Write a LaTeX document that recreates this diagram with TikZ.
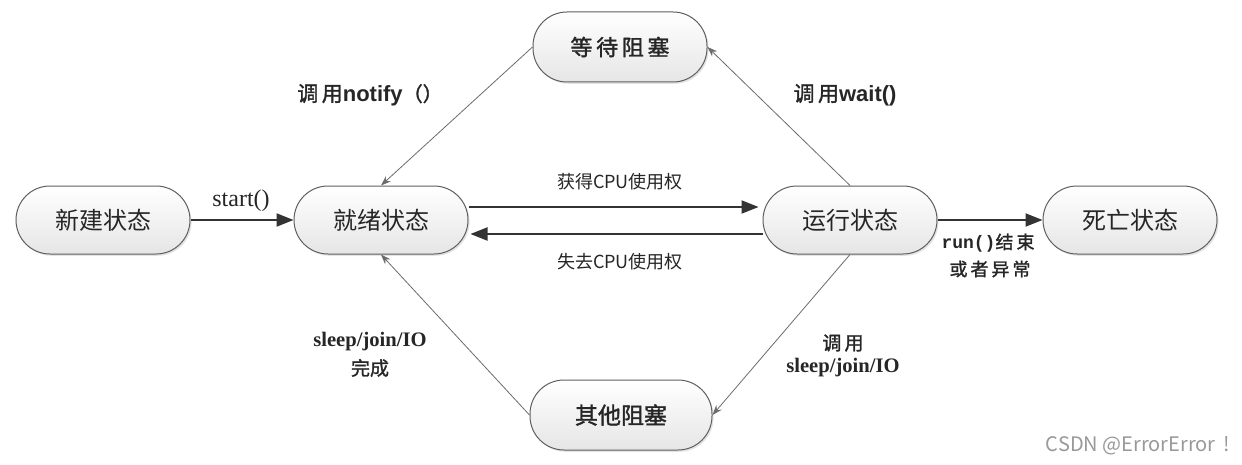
\documentclass[tikz,border=0pt]{standalone}
\usepackage{fontspec}
\setmainfont{Liberation Serif}
\setsansfont{Liberation Sans}
\setmonofont{Liberation Mono}
\newfontfamily\cjk{Noto Sans CJK SC}
\newfontfamily\cjkb[FakeBold=1.5]{Noto Sans CJK SC}
\usetikzlibrary{arrows.meta,shadows}
\tikzset{
  state/.style={draw=gray!75!black, line width=0.5pt, rounded corners=17pt,
    minimum width=87pt, minimum height=34pt, inner sep=0pt,
    top color=white, bottom color=gray!20,
    drop shadow={shadow xshift=0.8pt,shadow yshift=-0.9pt,opacity=0.22},
    text=black!85},
  statefont/.style={font=\cjk\fontsize{12}{14}\selectfont},
  blockfont/.style={font=\cjkb\fontsize{11}{13}\selectfont},
  thickarrow/.style={draw=black!80, line width=1pt, -{Triangle[length=8.5pt,width=6.5pt]}},
  thinarrow/.style={draw=gray!85!black, line width=0.4pt, -{Stealth[length=5pt,width=3.6pt]}},
  lbl/.style={inner sep=0pt, text=black!85, align=center}
}
\begin{document}
\begin{tikzpicture}[x=0.5pt,y=-0.5pt]
\useasboundingbox (0,0) rectangle (1242,465);
\fill[white] (0,0) rectangle (1242,465);

% states
\node[state,statefont] (new)   at (103,220)  {新建状态};
\node[state,statefont] (ready) at (381,220)  {就绪状态};
\node[state,statefont] (run)   at (850,220)  {运行状态};
\node[state,statefont] (dead)  at (1130,220) {死亡状态};
\node[state,blockfont,minimum height=35pt] (wait)  at (620,47) {等\,待\,阻\,塞};
\node[state,blockfont,minimum width=91pt,minimum height=35pt,font=\cjkb\fontsize{11.5}{13}\selectfont] (other) at (621,415) {其他阻塞};

% thick connectors
\draw[thickarrow] (new.east) -- (ready.west);
\draw[thickarrow] ([yshift=6.5pt]ready.east) -- ([yshift=6.5pt,xshift=-2pt]run.west);
\draw[thickarrow] ([yshift=-7pt]run.west) -- ([yshift=-7pt,xshift=1pt]ready.east);
\draw[thickarrow] (run.east) -- (dead.west);

% thin connectors
\draw[thinarrow] (wait.west) -- (ready.north);
\draw[thinarrow] (run.north) -- (wait.east);
\draw[thinarrow] (run.south) -- (other.east);
\draw[thinarrow] (other.west) -- (ready.south);

% labels
\node[lbl,font=\rmfamily\fontsize{12}{14}\selectfont] (lstart) at (241,201) {start()};
\node[lbl,font=\cjk\fontsize{9}{11}\selectfont] (lget) at (620,182) {获得CPU使用权};
\node[lbl,font=\cjk\fontsize{9}{11}\selectfont] (llose) at (620,262) {失去CPU使用权};
\node[lbl] (lnotify) at (370,95) {{\cjkb\fontsize{10.5}{12}\selectfont 调\,用}{\sffamily\bfseries\fontsize{11}{12}\selectfont notify}{\cjkb\fontsize{10}{12}\selectfont （）}};
\node[lbl] (lwaitc) at (845,95) {{\cjkb\fontsize{10.5}{12}\selectfont 调\,用}{\sffamily\bfseries\fontsize{11}{12}\selectfont wait()}};
\node[lbl] (lend1) at (988,243) {{\ttfamily\bfseries\fontsize{9}{11}\selectfont run()}{\cjkb\fontsize{9}{11}\selectfont 结\,束}};
\node[lbl,font=\cjkb\fontsize{9}{11}\selectfont] (lend2) at (990,269) {或\,者\,异\,常};
\node[lbl,font=\rmfamily\bfseries\fontsize{10.3}{12}\selectfont] (ldone1) at (370,342) {sleep/join/IO};
\node[lbl,font=\cjkb\fontsize{9.5}{11}\selectfont] (ldone2) at (370,368) {完成};
\node[lbl,font=\cjkb\fontsize{9.5}{11}\selectfont] (lcall1) at (843,343) {调\,用};
\node[lbl,font=\rmfamily\bfseries\fontsize{10.3}{12}\selectfont] (lcall2) at (843,368) {sleep/join/IO};
\node[lbl,font=\cjk\fontsize{10}{12}\selectfont,text=gray!80] (wm) at (1138,446) {CSDN @ErrorError\hspace{4pt}!};
\end{tikzpicture}
\end{document}
